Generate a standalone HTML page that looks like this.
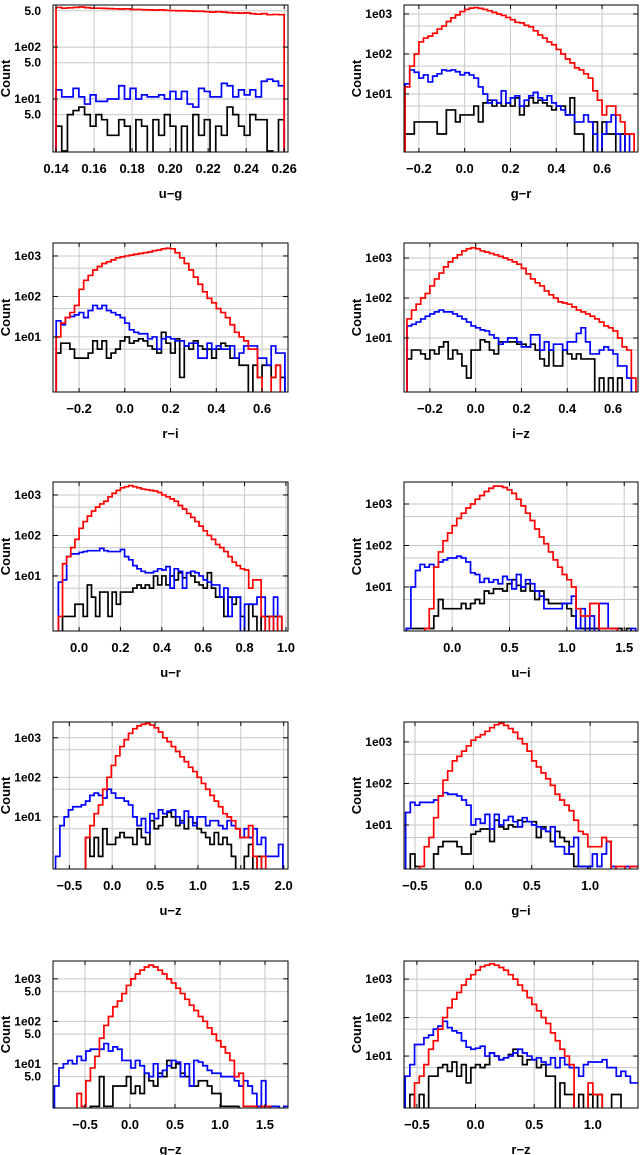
<!DOCTYPE html>
<html><head><meta charset="utf-8">
<style>
html,body{margin:0;padding:0;background:#fff;}
svg{display:block;}
text{font-family:"Liberation Sans","DejaVu Sans",sans-serif;font-weight:bold;fill:#000;}
</style></head>
<body>
<svg id="fig" width="640" height="1155" viewBox="0 0 640 1155" xmlns="http://www.w3.org/2000/svg"></svg>
<script>
// ---- data: counts per bin (red, blue, black series) ----
const ug_red = [580,560,570,580,590,575,560,560,555,550,545,540,545,530,530,525,520,515,520,510,505,500,500,495,490,490,480,470,480,470,460,455,450,455,440,430,440,420,425,420];
const ug_blue = [15,11,11,16,11,8,12,9,9,10,10,18,10,16,10,12,11,11,12,10,14,10,14,8,7,16,14,11,11,20,18,11,15,12,15,11,22,24,22,18];
const ug_black = [3,1,5,6,7,5,3,5,4,2,2,4,3,0,4,3,0,4,2,5,3,0,3,0,5,2,4,0,3,2,7,5,3,2,5,4,4,1,0,4];

const gr_red = [15,50,100,200,250,280,330,420,500,650,800,950,1150,1300,1400,1450,1380,1300,1200,1100,1000,920,820,720,620,600,520,480,380,300,250,200,170,130,100,75,60,45,40,32,25,12,7,3,5,5,3,2,1,1];
const gr_blue = [18,40,35,25,30,20,28,32,40,38,40,36,30,34,30,25,15,10,6,7,6,12,6,8,9,5,7,9,11,8,7,9,6,5,4,3,3,2,2,3,2,1,0,1,2,3,1,0,1,0];
const gr_black = [1,1,2,2,2,2,2,1,1,4,4,2,3,3,3,5,2,6,7,5,6,5,6,5,8,3,5,8,6,7,6,5,4,5,5,3,8,1,1,0,0,2,0,2,1,1,0,1,0,0];

const ri_red = [10,22,30,40,60,150,250,330,450,550,650,720,800,900,950,1000,1050,1100,1150,1200,1250,1350,1400,1500,1550,1500,1200,900,650,450,300,200,130,90,70,50,40,30,20,13,10,8,5,5,1,0,0,1,2,0];
const ri_blue = [25,20,30,32,35,40,30,45,60,50,60,45,40,35,30,22,15,13,12,12,9,10,5,9,10,9,8,8,6,7,7,3,3,7,5,6,5,5,6,3,4,6,6,6,3,3,2,6,4,4];
const ri_black = [4,7,7,5,3,3,3,4,8,5,8,3,4,5,8,10,7,8,9,8,6,5,4,13,7,4,9,1,6,5,8,6,5,5,3,5,7,6,3,3,2,2,0,2,1,2,2,1,2,1];

const iz_red = [30,50,70,100,130,200,300,420,600,800,1000,1200,1500,1700,1800,1700,1500,1400,1300,1200,1100,1000,900,800,700,550,400,300,240,200,150,120,100,80,75,70,60,50,45,40,35,30,25,20,18,15,10,6,5,1];
const iz_blue = [20,22,25,30,35,40,45,50,45,45,40,35,30,25,20,18,16,15,12,10,7,8,10,10,8,6,6,12,12,5,8,5,7,7,5,8,8,13,18,8,4,4,5,6,5,4,2,2,1,0];
const iz_black = [3,5,5,4,3,5,4,6,8,3,5,4,2,1,5,5,9,8,5,4,8,8,8,8,7,7,6,7,5,3,2,5,2,2,5,4,3,4,3,3,3,0,1,0,1,0,1,0,0,0];

const ur_red = [1,20,30,50,80,150,220,300,400,500,600,700,900,1100,1300,1500,1600,1700,1600,1500,1400,1350,1300,1250,1150,1000,900,800,700,550,450,350,280,220,170,130,100,80,60,50,40,30,22,18,15,14,5,8,8,1,0,1,0,1,0];
const ur_blue = [7,8,30,35,35,38,40,42,42,42,48,42,40,40,40,45,30,25,18,15,13,12,12,13,15,14,17,5,15,13,5,12,13,12,10,8,7,6,6,3,5,1,3,3,0,2,2,2,3,3,0,0,3,0,0];
const ur_black = [0,1,1,1,2,2,1,6,3,1,4,4,1,4,2,4,4,4,5,6,5,6,5,10,6,10,6,10,8,12,9,12,10,7,6,5,12,5,3,3,1,3,2,3,1,0,2,1,0,1,1,1,1,1,0];

const ui_red = [0,0,0,0,1,3,30,70,130,200,300,450,600,800,1000,1300,1600,2000,2400,2700,2700,2500,2200,1800,1300,900,600,400,250,160,110,70,45,30,20,15,10,3,2,2,4,4,1,1,1,1,0,0,0,0];
const ui_blue = [1,10,25,35,30,35,30,40,45,50,50,55,50,40,22,20,13,16,13,15,12,18,15,9,20,10,15,12,8,6,3,3,3,3,4,4,6,1,3,0,2,0,4,4,1,1,0,0,0,1];
const ui_black = [1,1,1,1,1,1,2,5,3,3,3,3,4,3,4,5,4,8,7,9,9,8,12,15,11,8,12,8,5,8,5,4,4,4,4,3,2,1,1,1,1,1,1,1,1,1,1,0,1,0];

const uz_red = [0,0,0,0,0,0,0,3,6,12,20,50,100,200,350,600,900,1300,1700,2000,2200,2300,2100,1800,1400,1000,800,600,450,330,250,180,140,100,70,50,35,25,18,12,10,8,5,3,3,6,1,0,1,0,0,0,0,0];
const uz_blue = [1,6,10,15,18,18,20,25,35,40,35,30,50,40,30,30,25,20,10,6,9,4,12,9,15,12,14,15,10,7,14,10,6,10,10,6,8,8,6,5,8,6,5,3,5,3,5,2,3,1,1,1,2,0];
const uz_black = [0,0,0,0,0,0,0,3,1,3,1,5,2,2,3,4,3,3,2,5,3,2,8,5,6,10,13,10,6,8,5,10,7,5,4,3,2,4,2,3,2,1,0,0,1,2,0,1,0,0,0,0,0,0];

const gi_red = [0,0,0,1,3,5,15,50,120,200,350,450,600,800,1100,1300,1500,1800,2200,2600,2800,2500,2100,1700,1200,900,600,350,250,180,130,90,55,40,30,22,13,7,6,3,3,3,5,4,0,1,1,0,1,1];
const gi_blue = [20,35,30,35,35,35,40,50,60,55,55,50,40,30,10,14,11,18,8,18,10,13,16,12,9,15,12,10,9,8,7,9,3,3,2,3,5,1,1,1,2,1,2,4,1,0,0,1,1,1];
const gi_black = [0,2,1,0,0,0,2,3,4,4,4,3,2,2,6,7,8,8,4,13,9,8,10,9,13,12,12,12,5,9,7,4,7,5,4,2,1,1,1,0,0,0,0,0,0,0,0,0,0,0];

const gz_red = [0,0,0,0,0,2,1,4,8,15,40,80,130,220,300,450,700,1000,1300,1600,1900,2100,1900,1600,1300,1000,800,600,450,330,240,180,130,100,70,50,35,25,18,12,5,6,1,1,1,0,1,1,0,0,0,0];
const gz_blue = [3,8,10,12,10,15,12,20,22,22,22,30,20,25,22,12,12,8,12,9,6,5,10,5,7,9,12,11,5,10,3,12,11,9,7,6,6,5,5,5,4,3,4,3,2,1,4,1,1,1,0,1];
const gz_black = [0,0,0,0,0,0,0,0,1,1,5,1,1,3,3,3,5,2,3,2,6,4,3,6,5,12,8,10,6,5,3,3,4,4,3,2,2,1,1,1,1,0,0,0,0,0,0,0,0,0,0,0];

const rz_red = [0,0,2,3,6,15,25,50,100,180,300,450,700,1000,1300,1700,2100,2300,2500,2300,2000,1700,1300,1000,700,500,330,220,150,100,70,40,25,15,10,6,0,0,0,2,1,1,0,0,0,0,0,0,0,0];
const rz_blue = [3,6,20,20,30,35,50,60,80,55,45,40,25,17,15,16,18,10,12,10,8,9,10,12,15,12,10,8,9,7,6,9,5,9,6,5,5,3,6,7,7,7,8,5,5,3,4,3,2,2];
const rz_black = [0,1,0,1,0,3,3,5,6,4,7,3,6,2,5,6,5,6,12,10,8,9,11,15,10,6,8,8,5,6,3,3,0,2,1,1,0,1,0,1,0,1,0,0,1,1,0,0,0,0];

// tick labels
const ug_xticks = [0.14,0.16,0.18,0.20,0.22,0.24,0.26];
const gr_xticks = [-0.2,0.0,0.2,0.4,0.6];
const ri_xticks = [-0.2,0.0,0.2,0.4,0.6];
const iz_xticks = [-0.2,0.0,0.2,0.4,0.6];
const ur_xticks = [0.0,0.2,0.4,0.6,0.8,1.0];
const ui_xticks = [0.0,0.5,1.0,1.5];
const uz_xticks = [-0.5,0.0,0.5,1.0,1.5,2.0];
const gi_xticks = [-0.5,0.0,0.5,1.0];
const gz_xticks = [-0.5,0.0,0.5,1.0,1.5];
const rz_xticks = [-0.5,0.0,0.5,1.0];
const yDecadeLabels = ["1e01","1e02","1e03"];
const yHalfLabel = "5.0";

// ---- layout ----
const L = [53,288], R = [404,638];
const tops = [5,243,482,722,961], bots = [152,392,631,869,1108];
const panels = [
 {key:'ug',label:'u−g',col:L,row:0,xlim:[0.1384,0.262],ylim:[-0.02,2.81],bins:[0.14,0.26],xt:ug_xticks,half:true,r:ug_red,b:ug_blue,k:ug_black},
 {key:'gr',label:'g−r',col:R,row:0,xlim:[-0.265,0.757],ylim:[-0.45,3.225],bins:[-0.26,0.74],xt:gr_xticks,half:false,r:gr_red,b:gr_blue,k:gr_black},
 {key:'ri',label:'r−i',col:L,row:1,xlim:[-0.314,0.7135],ylim:[-0.36,3.32],bins:[-0.30,0.70],xt:ri_xticks,half:false,r:ri_red,b:ri_blue,k:ri_black},
 {key:'iz',label:'i−z',col:R,row:1,xlim:[-0.313,0.709],ylim:[-0.35,3.375],bins:[-0.30,0.70],xt:iz_xticks,half:false,r:iz_red,b:iz_blue,k:iz_black},
 {key:'ur',label:'u−r',col:L,row:2,xlim:[-0.126,1.01],ylim:[-0.36,3.32],bins:[-0.10,1.00],xt:ur_xticks,half:false,r:ur_red,b:ur_blue,k:ur_black},
 {key:'ui',label:'u−i',col:R,row:2,xlim:[-0.42,1.62],ylim:[-0.06,3.53],bins:[-0.40,1.60],xt:ui_xticks,half:false,r:ui_red,b:ui_blue,k:ui_black},
 {key:'uz',label:'u−z',col:L,row:3,xlim:[-0.69,2.05],ylim:[-0.32,3.4],bins:[-0.66,2.04],xt:uz_xticks,half:false,r:uz_red,b:uz_blue,k:uz_black},
 {key:'gi',label:'g−i',col:R,row:3,xlim:[-0.594,1.41],ylim:[-0.06,3.48],bins:[-0.58,1.42],xt:gi_xticks,half:false,r:gi_red,b:gi_blue,k:gi_black},
 {key:'gz',label:'g−z',col:L,row:4,xlim:[-0.856,1.756],ylim:[-0.04,3.42],bins:[-0.84,1.76],xt:gz_xticks,half:true,r:gz_red,b:gz_blue,k:gz_black},
 {key:'rz',label:'r−z',col:R,row:4,xlim:[-0.61,1.385],ylim:[-0.35,3.47],bins:[-0.60,1.40],xt:rz_xticks,half:false,r:rz_red,b:rz_blue,k:rz_black}
];

const NS = 'http://www.w3.org/2000/svg';
const svg = document.getElementById('fig');
function mk(tag, attrs, parent){
  const e = document.createElementNS(NS, tag);
  for (const a in attrs) e.setAttribute(a, attrs[a]);
  (parent||svg).appendChild(e);
  return e;
}
function fmtX(v, key){
  const d = key==='ug' ? 2 : 1;
  const s = Math.abs(v).toFixed(d);
  return (v < -1e-9 ? '−' : '') + s;
}

panels.forEach(function(p){
  const x0 = p.col[0], x1 = p.col[1], y0 = tops[p.row], y1 = bots[p.row];
  const xs = v => x0 + (v - p.xlim[0]) / (p.xlim[1] - p.xlim[0]) * (x1 - x0);
  const ys = lv => y1 - (lv - p.ylim[0]) / (p.ylim[1] - p.ylim[0]) * (y1 - y0);
  const g = mk('g', {});
  
  

  const cp = mk('clipPath', {id: 'clip-' + p.key}, g);
  mk('rect', {x: x0, y: y0, width: x1 - x0, height: y1 - y0}, cp);

  const grid = mk('g', {stroke: '#c8c8c8', 'stroke-width': 1}, g);
  
  
  p.xt.forEach(function(t){
    const x = xs(t);
    mk('line', {x1: x, x2: x, y1: y0, y2: y1}, grid);
  });
  [0.699, 1, 1.699, 2, 2.699, 3].forEach(function(lv){
    if (lv > p.ylim[0] && lv < p.ylim[1]) {
      const y = ys(lv);
      mk('line', {x1: x0, x2: x1, y1: y, y2: y}, grid);
    }
  });

  const series = [['black', p.k, '#000'], ['blue', p.b, '#0000ff'], ['red', p.r, '#ff0000']];
  series.forEach(function(s){
    const arr = s[1];
    const n = arr.length;
    const w = (p.bins[1] - p.bins[0]) / n;
    const below = y1 + 6;
    let d = 'M' + xs(p.bins[0]).toFixed(2) + ',' + below;
    for (let i = 0; i < n; i++) {
      const c = arr[i];
      const y = c > 0 ? ys(Math.log10(c)) : below;
      d += ' L' + xs(p.bins[0] + i * w).toFixed(2) + ',' + y.toFixed(2);
      d += ' L' + xs(p.bins[0] + (i + 1) * w).toFixed(2) + ',' + y.toFixed(2);
    }
    d += ' L' + xs(p.bins[1]).toFixed(2) + ',' + below;
    const path = mk('path', {d: d, fill: 'none', stroke: s[2], 'stroke-width': 1.7, 'clip-path': 'url(#clip-' + p.key + ')'}, g);
    
    
  });

  const fr = mk('rect', {x: x0, y: y0, width: x1 - x0, height: y1 - y0, fill: 'none', stroke: '#000', 'stroke-width': 1}, g);
  
  

  p.xt.forEach(function(t){
    const x = xs(t);
    mk('line', {x1: x, x2: x, y1: y1, y2: y1 - 4, stroke: '#000'}, g);
    mk('line', {x1: x, x2: x, y1: y0, y2: y0 + 4, stroke: '#000'}, g);
    const tl = mk('text', {x: x, y: y1 + 21, 'text-anchor': 'middle', 'font-size': 13}, g);
    tl.textContent = fmtX(t, p.key);
    
    
  });

  for (let k = 1; k <= 3; k++) {
    if (k > p.ylim[0] && k < p.ylim[1]) {
      const y = ys(k);
      mk('line', {x1: x0, x2: x0 + 5, y1: y, y2: y, stroke: '#000'}, g);
      mk('line', {x1: x1, x2: x1 - 5, y1: y, y2: y, stroke: '#000'}, g);
      const tl = mk('text', {x: x0 - 12, y: y + 4, 'text-anchor': 'end', 'font-size': 12}, g);
      tl.textContent = yDecadeLabels[k - 1];
      
      
    }
    if (p.half) {
      const lv = k - 0.301;
      if (lv > p.ylim[0] && lv < p.ylim[1]) {
        const y = ys(lv);
        const tl = mk('text', {x: x0 - 12, y: y + 4, 'text-anchor': 'end', 'font-size': 12}, g);
        tl.textContent = yHalfLabel;
        
        
      }
    }
  }

  const xl = mk('text', {x: (x0 + x1) / 2, y: y1 + 46, 'text-anchor': 'middle', 'font-size': 13}, g);
  xl.textContent = p.label;
  
  
  const cy = (y0 + y1) / 2, cx = x0 - 43;
  const yl = mk('text', {x: cx, y: cy, 'text-anchor': 'middle', 'font-size': 13, transform: 'rotate(-90 ' + cx + ' ' + cy + ')'}, g);
  yl.textContent = 'Count';
  
  
});
</script>
</body></html>
